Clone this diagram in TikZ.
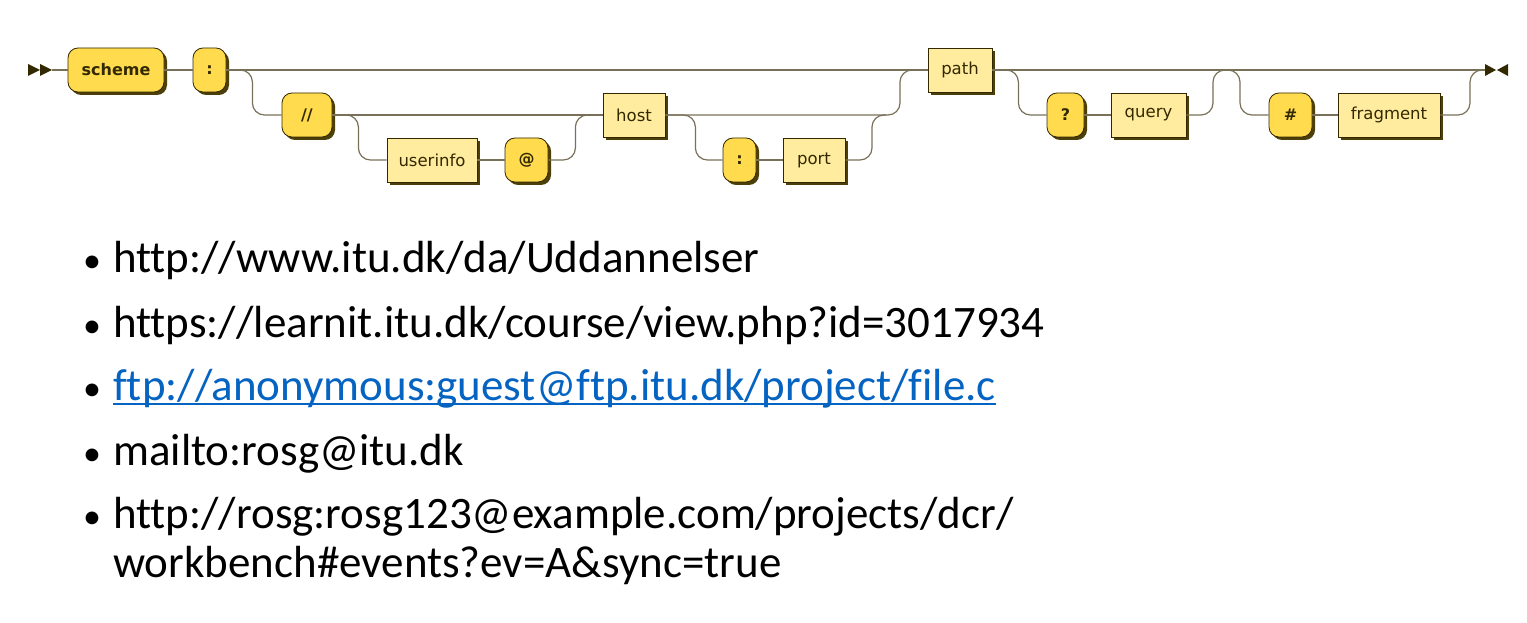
\documentclass[tikz,border=0pt]{standalone}
\usepackage{fontspec}
\usepackage{xcolor}
\setmainfont{Carlito}[Ligatures=NoCommon]
\newfontfamily\railfont{DejaVu Sans}
\usetikzlibrary{shadows}

\definecolor{termfill}{HTML}{FFDB4D}
\definecolor{ntermfill}{HTML}{FFEC9E}
\definecolor{boxline}{HTML}{332900}
\definecolor{boxshadow}{HTML}{4D3F0A}
\definecolor{railc}{HTML}{787058}
\definecolor{linkc}{HTML}{0563C1}

\begin{document}
\begin{tikzpicture}[
	x=1pt, y=-1pt,
	term/.style={
		draw=boxline, line width=0.8pt, fill=termfill, rectangle, rounded corners=10pt,
		minimum height=44pt, inner sep=2pt, text=boxline,
		font=\railfont\bfseries\fontsize{16}{19}\selectfont,
		general shadow={fill=boxshadow, shadow xshift=3pt, shadow yshift=-3pt}
	},
	nterm/.style={
		draw=boxline, line width=0.8pt, fill=ntermfill, rectangle,
		minimum height=44pt, inner sep=2pt, text=boxline,
		font=\railfont\fontsize{16.5}{19}\selectfont,
		general shadow={fill=boxshadow, shadow xshift=3pt, shadow yshift=-3pt}
	},
	rail/.style={draw=railc, line width=1.2pt, rounded corners=12pt},
	endmark/.style={fill=boxline},
	item/.style={anchor=base west, inner sep=0pt, font=\fontsize{45}{50}\selectfont},
	dot/.style={anchor=base, inner sep=0pt, font=\fontsize{36}{40}\selectfont},
	]
	\useasboundingbox (0,0) rectangle (1527,623);
	
	% Railroad: scheme ":" [ "//" [userinfo "@"] host [":" port] ] path ["?" query] ["#" fragment]
	\node[term, minimum width=96pt]   (scheme)   at (116, 70)    {scheme};
	\node[term, minimum width=33pt]   (colon)    at (209.5, 70)  {:};
	\node[term, minimum width=50pt]   (slashes)  at (307, 115)   {//};
	\node[nterm, minimum width=90pt]  (userinfo) at (432, 160)   {userinfo};
	\node[term, minimum width=43pt]   (atsign)   at (526.5, 160) {@};
	\node[nterm, minimum width=62pt]  (host)     at (634, 115)   {host};
	\node[term, minimum width=33pt]   (pcolon)   at (739.5, 160) {:};
	\node[nterm, minimum width=62pt]  (port)     at (814, 160)   {port};
	\node[nterm, minimum width=64pt]  (urlpath)  at (960, 70)    {path};
	\node[term, minimum width=37pt]   (qmark)    at (1065.5, 115) {?};
	\node[nterm, minimum width=75pt]  (query)    at (1148.5, 115) {query};
	\node[term, minimum width=43pt]   (hash)     at (1290.5, 115) {\#};
	\node[nterm, minimum width=102pt] (fragment) at (1389, 115)  {fragment};
	
	% Joints of the rails
	\coordinate (start)  at (28, 70);
	\coordinate (stop)   at (1485, 70);
	\coordinate (jport)  at (872, 115);
	\coordinate (jhost)  at (900, 70);
	\coordinate (jquery) at (1213, 70);
	\coordinate (jfrag)  at (1240, 70);
	\coordinate (jend)   at (1470, 70);
	
	% Start and end marks
	\fill[endmark] (start) ++(0,-6) -- ++(12,6) -- ++(-12,6) -- cycle;
	\fill[endmark] (start) ++(12,-6) -- ++(12,6) -- ++(-12,6) -- cycle;
	\fill[endmark] (stop) ++(0,-6) -- ++(11,6) -- ++(-11,6) -- cycle;
	\fill[endmark] (stop) ++(23,-6) -- ++(-11,6) -- ++(11,6) -- cycle;
	
	% Main line
	\draw[rail] ([xshift=24pt]start) -- (scheme.west);
	\draw[rail] (scheme) -- (colon);
	\draw[rail] (colon) -- (urlpath);
	\draw[rail] (urlpath.east) -- (stop);
	
	% Authority
	\draw[rail] (colon.east) -- ++(26,0) |- (slashes.west);
	\draw[rail] (slashes) -- (host);
	\draw[rail] (slashes.east) -- ++(26,0) |- (userinfo.west);
	\draw[rail] (userinfo) -- (atsign);
	\draw[rail] (atsign.east) -- ++(27,0) |- (host.west);
	\draw[rail] (host.east) -- ++(30,0) |- (pcolon.west);
	\draw[rail] (pcolon) -- (port);
	\draw[rail] (port.east) -| (jport) -- ++(14,0);
	\draw[rail] (host.east) -| (jhost) -- (urlpath.west);
	
	% Query and fragment
	\draw[rail] (urlpath.east) -- ++(26,0) |- (qmark.west);
	\draw[rail] (qmark) -- (query);
	\draw[rail] (query.east) -| (jquery) -- (jfrag) |- (hash.west);
	\draw[rail] (hash) -- (fragment);
	\draw[rail] (fragment.east) -| (jend) -- (stop);
	
	% Examples
	\foreach \y in {272, 337, 400, 465, 528}
	\node[dot] (b\y) at (92, \y) {•};
	\node[item] (u1)  at (113, 272) {http://www.itu.dk/da/Uddannelser};
	\node[item] (u2)  at (113, 337) {https://learnit.itu.dk/course/view.php?id=3017934};
	\node[item, text=linkc] (u3) at (113, 400) {ftp://anonymous:guest@ftp.itu.dk/project/file.c};
	\draw[linkc, line width=2pt] ([yshift=-4pt]u3.base west) -- ([yshift=-4pt]u3.base east);
	\node[item] (u4)  at (113, 465) {mailto:rosg@itu.dk};
	\node[item] (u5a) at (113, 528) {http://rosg:rosg123@example.com/projects/dcr/};
	\node[item] (u5b) at (113, 577) {workbench\#events?ev=A\&sync=true};
	
\end{tikzpicture}
\end{document}
